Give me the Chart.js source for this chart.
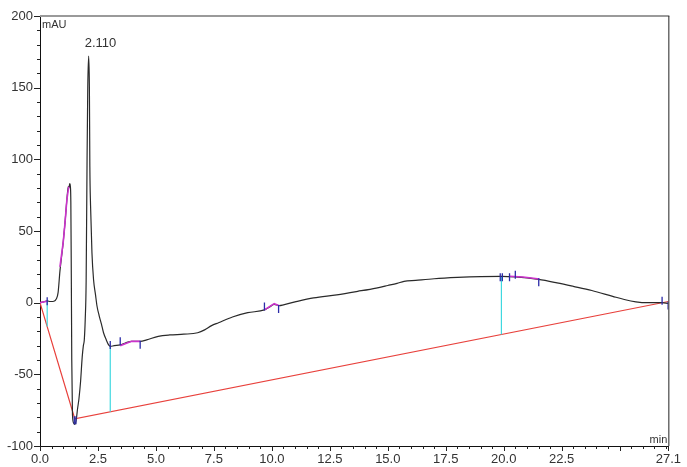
<!DOCTYPE html>
<html>
<head>
<meta charset="utf-8">
<script src="https://cdn.jsdelivr.net/npm/chart.js@4/dist/chart.umd.min.js"></script>
<style>
  html, body { margin: 0; padding: 0; background: #fff; }
  #wrap { width: 687px; height: 467px; }
</style>
</head>
<body>
<div id="wrap"><canvas id="chrom" width="687" height="467"></canvas></div>
<script>
// detector signal (time in min, signal in mAU)
const traceTime = [0.00, 0.15, 0.31, 0.45, 0.60, 0.70, 0.78, 0.86, 0.93, 1.00, 1.08, 1.16, 1.22, 1.25, 1.28, 1.31, 1.33, 1.35, 1.37, 1.40,
  1.45, 1.50, 1.56, 1.62, 1.68, 1.75, 1.82, 1.87, 1.91, 1.95, 1.99, 2.03, 2.06, 2.10, 2.13, 2.15, 2.18, 2.24, 2.31, 2.39,
  2.46, 2.55, 2.65, 2.74, 2.86, 2.96, 3.03, 3.20, 3.46, 3.70, 3.95, 4.32, 4.60, 5.10, 5.60, 6.20, 6.80, 7.10, 7.40, 7.70,
  8.30, 8.96, 9.68, 9.90, 10.10, 10.32, 10.50, 11.00, 11.80, 12.80, 13.70, 14.50, 15.00, 15.40, 15.70, 16.20, 17.00, 18.00, 19.00, 19.90,
  20.50, 21.50, 22.30, 23.00, 23.80, 24.70, 25.20, 25.70, 26.20, 26.80, 27.10];
const traceMau = [0, 0.6, 1.2, 0.8, 1.0, 2.5, 7, 22, 32, 42, 56, 72, 81, 80, 83, 81, 70, 20, -40, -78,
  -84, -85, -82, -74, -67, -55, -38, -30, -26, -12, 15, 100, 150, 172, 150, 95, 68, 35, 16, 6,
  -2.5, -9, -15, -21, -26, -29.5, -30.5, -30, -29.5, -28, -27, -27, -26, -23.5, -22.5, -22, -21, -19, -16, -14,
  -10, -7, -5, -3, -1.2, -2, -1.5, 0.5, 3.3, 5.5, 7.9, 10.2, 12.0, 13.5, 14.9, 15.6, 16.7, 17.6, 18.2, 18.4,
  18, 16.2, 13.8, 11.4, 8.5, 4.4, 2.2, 0.6, 0, 0, -0.5];

// integration baseline
const baseTime = [0.00, 1.50, 27.10];
const baseMau = [0, -81, 0.8];

// drop lines from the trace down to the baseline
const dropTime = [0.31, 3.03, 19.90];
const dropTop = [1.0, -30.5, 18.4];
const dropBottom = [-16.7, -76.1, -22.2];

// integrated segments (magenta)
const segTime = [[0.00, 0.31], [0.86, 1.00, 1.08, 1.16, 1.24], [3.46, 3.70, 3.95, 4.32], [9.68, 10.10, 10.32], [20.25, 20.83, 21.54]];
const segMau = [[0, 1.0], [25, 42, 56, 72, 81], [-30, -28.5, -27, -27], [-5, -0.7, -2.1], [18.4, 17.9, 16.5]];

// peak start / end markers
const markTime = [0.31, 1.48, 1.55, 3.03, 3.46, 4.32, 9.68, 10.29, 19.85, 19.94, 20.25, 20.50, 21.51, 26.83, 27.09];
const markMau = [1, -82, -82, -29.5, -27, -29.3, -2.6, -4.4, 17.8, 17.8, 17.8, 19.5, 14.2, 1.4, -2];

// peak annotation
const peakTime = [2.10];
const peakMau = [172];
const peakLabel = ['2.110'];

// axes
const xMin = 0, xMax = 27.1;
const yMin = -100, yMax = 200;
const xTickValues = [0, 2.5, 5, 7.5, 10, 12.5, 15, 17.5, 20, 22.5, 27.1];
const xTickLabels = ['0.0', '2.5', '5.0', '7.5', '10.0', '12.5', '15.0', '17.5', '20.0', '22.5', '27.1'];
const yTickValues = [-100, -50, 0, 50, 100, 150, 200];
const yTickLabels = ['-100', '-50', '0', '50', '100', '150', '200'];

const toPoints = (xs, ys) => xs.map((t, i) => ({ x: t, y: ys[i] }));

const datasets = [];
datasets.push({
  data: toPoints(markTime, markMau), showLine: false,
  pointStyle: 'line', rotation: 90, pointRadius: 4, borderColor: '#2b2ba8', borderWidth: 1.3
});
segTime.forEach((ts, i) => {
  datasets.push({ data: toPoints(ts, segMau[i]), showLine: true, borderColor: '#cc33cc', borderWidth: 1.6, pointRadius: 0 });
});
datasets.push({
  data: toPoints(traceTime, traceMau), showLine: true, borderColor: '#2a2a2a', borderWidth: 1.2,
  pointRadius: 0, cubicInterpolationMode: 'monotone'
});
dropTime.forEach((t, i) => {
  datasets.push({ data: [{ x: t, y: dropTop[i] }, { x: t, y: dropBottom[i] }], showLine: true, borderColor: '#3fd8e0', borderWidth: 1.2, pointRadius: 0 });
});
datasets.push({ data: toPoints(baseTime, baseMau), showLine: true, borderColor: '#e8413c', borderWidth: 1.2, pointRadius: 0 });

// frame, minor/major tick marks, unit labels and peak label
const frameAndTicks = {
  id: 'frameAndTicks',
  afterDraw(chart) {
    const { ctx, chartArea: a, scales: { x, y } } = chart;
    ctx.save();
    ctx.strokeStyle = '#9a9a9a';
    ctx.lineWidth = 2;
    ctx.beginPath(); ctx.moveTo(a.left, a.top); ctx.lineTo(a.right + 1, a.top); ctx.stroke();
    ctx.strokeStyle = '#222';
    ctx.lineWidth = 1;
    ctx.beginPath(); ctx.moveTo(a.right + 0.5, a.top); ctx.lineTo(a.right + 0.5, a.bottom); ctx.stroke();

    ctx.beginPath();
    for (let v = yMin; v <= yMax; v += 10) {
      const py = Math.round(y.getPixelForValue(v)) + 0.5;
      const len = v % 50 === 0 ? 6 : 3;
      ctx.moveTo(a.left, py); ctx.lineTo(a.left - len, py);
    }
    for (let i = 0; i <= 54; i++) {
      const px = Math.round(x.getPixelForValue(i * 0.5)) + 0.5;
      const len = i % 5 === 0 ? 5 : 3;
      ctx.moveTo(px, a.bottom); ctx.lineTo(px, a.bottom + len);
    }
    const pxEnd = Math.round(x.getPixelForValue(xMax)) + 0.5;
    ctx.moveTo(pxEnd, a.bottom); ctx.lineTo(pxEnd, a.bottom + 5);
    ctx.stroke();

    ctx.fillStyle = '#333';
    ctx.font = '11px "Liberation Sans", Arial, sans-serif';
    ctx.textAlign = 'left'; ctx.textBaseline = 'top';
    ctx.fillText('mAU', a.left + 2, a.top + 3);
    ctx.textAlign = 'right'; ctx.textBaseline = 'bottom';
    ctx.fillText('min', a.right - 1, a.bottom - 1);

    ctx.font = '13px "Liberation Sans", Arial, sans-serif';
    ctx.textAlign = 'left'; ctx.textBaseline = 'bottom';
    peakTime.forEach((t, i) => {
      ctx.fillText(peakLabel[i], x.getPixelForValue(t) - 4, y.getPixelForValue(peakMau[i]) - 6);
    });
    ctx.restore();
  }
};

new Chart(document.getElementById('chrom'), {
  type: 'scatter',
  data: { datasets },
  plugins: [frameAndTicks],
  options: {
    responsive: false,
    animation: false,
    layout: { padding: { top: 16, right: 13, left: 0, bottom: 0 } },
    plugins: { legend: { display: false }, tooltip: { enabled: false } },
    scales: {
      x: {
        type: 'linear', min: xMin, max: xMax,
        afterBuildTicks: s => { s.ticks = xTickValues.map(v => ({ value: v })); },
        afterFit: s => { s.height = 21; },
        grid: { display: false, drawTicks: false },
        border: { display: true, color: '#111', width: 1 },
        ticks: {
          autoSkip: false, maxRotation: 0, padding: 6, color: '#333',
          font: { family: '"Liberation Sans", Arial, sans-serif', size: 13 },
          callback: (v) => xTickLabels[xTickValues.indexOf(v)]
        }
      },
      y: {
        type: 'linear', min: yMin, max: yMax,
        afterBuildTicks: s => { s.ticks = yTickValues.map(v => ({ value: v })); },
        afterFit: s => { s.width = 40; },
        grid: { display: false, drawTicks: false },
        border: { display: true, color: '#111', width: 1 },
        ticks: {
          autoSkip: false, padding: 7, color: '#333',
          font: { family: '"Liberation Sans", Arial, sans-serif', size: 13 },
          callback: (v) => yTickLabels[yTickValues.indexOf(v)]
        }
      }
    }
  }
});
</script>
</body>
</html>
